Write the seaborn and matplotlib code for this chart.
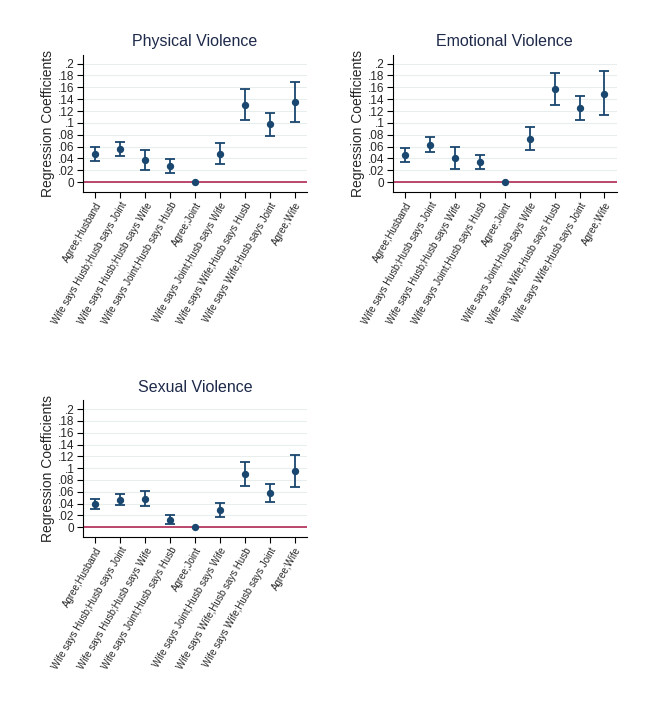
import matplotlib
matplotlib.use("Agg")
import matplotlib.pyplot as plt
import matplotlib.ticker as mticker
import seaborn as sns
import pandas as pd

categories = [
    "Agree;Husband",
    "Wife says Husb;Husb says Joint",
    "Wife says Husb;Husb says Wife",
    "Wife says Joint;Husb says Husb",
    "Agree;Joint",
    "Wife says Joint;Husb says Wife",
    "Wife says Wife;Husb says Husb",
    "Wife says Wife;Husb says Joint",
    "Agree;Wife",
]

physical_coef = [0.047, 0.056, 0.0375, 0.027, 0.0, 0.048, 0.131, 0.098, 0.135]
physical_hi = [0.059, 0.068, 0.0545, 0.039, 0.0, 0.066, 0.157, 0.117, 0.169]
physical_lo = [0.036, 0.044, 0.0205, 0.015, 0.0, 0.031, 0.105, 0.078, 0.102]

emotional_coef = [0.0466, 0.063, 0.041, 0.034, 0.0, 0.073, 0.157, 0.125, 0.149]
emotional_hi = [0.058, 0.0756, 0.0597, 0.0466, 0.0, 0.0926, 0.185, 0.145, 0.187]
emotional_lo = [0.034, 0.0506, 0.022, 0.022, 0.0, 0.0545, 0.131, 0.1045, 0.114]

sexual_coef = [0.039, 0.0466, 0.048, 0.0125, 0.0, 0.0295, 0.0898, 0.057, 0.0955]
sexual_hi = [0.048, 0.056, 0.061, 0.020, 0.0, 0.041, 0.110, 0.073, 0.123]
sexual_lo = [0.030, 0.0375, 0.035, 0.0045, 0.0, 0.0165, 0.069, 0.043, 0.068]

yticks = [0, 0.02, 0.04, 0.06, 0.08, 0.1, 0.12, 0.14, 0.16, 0.18, 0.2]

sns.set_theme(style="white")
plt.rcParams["font.family"] = ["Liberation Sans", "DejaVu Sans"]

navy = "#1a476f"
zero_col = "#b02a55"

panels = [
    ("Physical Violence", physical_coef, physical_lo, physical_hi, [0.128, 0.733, 0.346, 0.191]),
    ("Emotional Violence", emotional_coef, emotional_lo, emotional_hi, [0.606, 0.733, 0.346, 0.191]),
    ("Sexual Violence", sexual_coef, sexual_lo, sexual_hi, [0.128, 0.254, 0.346, 0.190]),
]


def stata_fmt(v, pos):
    # Stata style: no leading zero
    if abs(v) < 1e-9:
        return "0"
    s = f"{v:.2f}".rstrip("0")
    return s.replace("0.", ".", 1)


fig = plt.figure(figsize=(6.48, 7.2), dpi=100)

for title, coef, lo, hi, rect in panels:
    ax = fig.add_axes(rect)
    df = pd.DataFrame({"cat": categories, "coef": coef, "lo": lo, "hi": hi})
    df["pos"] = range(len(df))

    for y in yticks:
        ax.axhline(y, color="#e8eeee", lw=0.8, zorder=0)
    ax.axhline(0, color=zero_col, lw=1.2, zorder=1)

    ci = df[df["hi"] > df["lo"]]
    ax.errorbar(ci["pos"], ci["coef"],
                yerr=[ci["coef"] - ci["lo"], ci["hi"] - ci["coef"]],
                fmt="none", ecolor=navy, elinewidth=1.3, capsize=3.5, capthick=1.3, zorder=2)
    sns.scatterplot(data=df, x="pos", y="coef", color=navy, s=28, edgecolor=navy,
                    linewidth=0, zorder=3, ax=ax)

    ax.set_xlim(-0.5, 8.5)
    ax.set_ylim(-0.017, 0.215)
    ax.set_xticks(range(len(categories)))
    ax.set_xticklabels(categories, rotation=60, ha="right", rotation_mode="anchor", fontsize=7)
    ax.set_yticks(yticks)
    ax.yaxis.set_major_formatter(mticker.FuncFormatter(stata_fmt))
    ax.tick_params(axis="y", labelsize=8.5, length=4, width=0.8, color="black", left=True, pad=2)
    ax.tick_params(axis="x", length=4, width=0.8, color="black", bottom=True, pad=2)
    ax.set_xlabel("")
    ax.set_ylabel("Regression Coefficients", fontsize=10, labelpad=2)
    ax.set_title(title, fontsize=11.5, color="#1e2a4a", pad=6)
    for side in ["top", "right"]:
        ax.spines[side].set_visible(False)
    for side in ["left", "bottom"]:
        ax.spines[side].set_color("black")
        ax.spines[side].set_linewidth(0.8)

fig.savefig("out.png", dpi=100, facecolor="white")
